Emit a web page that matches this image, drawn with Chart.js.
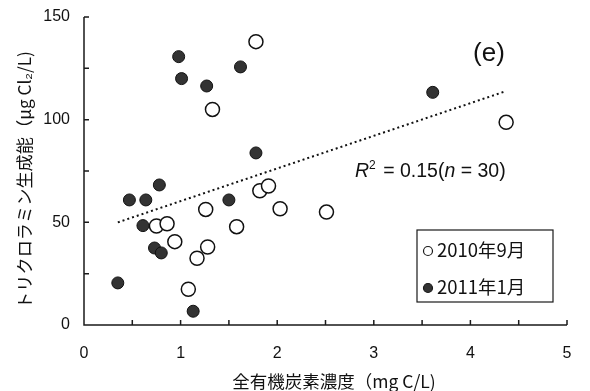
<!DOCTYPE html>
<html>
<head>
<meta charset="utf-8">
<script src="https://cdn.jsdelivr.net/npm/chart.js@4"></script>
<style>
  body { margin: 0; background: #fff; }
  #wrap { width: 590px; height: 391px; }
</style>
</head>
<body>
<div id="wrap"><canvas id="chartContainer" width="590" height="391"></canvas></div>
<script>
// Sep 2010 samples (open circles)
const sep2010X = [1.78, 1.33, 1.82, 1.91, 1.26, 2.03, 2.51, 0.75, 0.86, 1.58, 0.94, 1.28, 1.17, 1.08, 4.37];
const sep2010Y = [138, 105, 65.4, 67.7, 56.3, 56.6, 55, 48.2, 49.3, 47.9, 40.6, 38, 32.5, 17.4, 98.7];
// Jan 2011 samples (filled circles)
const jan2011X = [0.98, 1.01, 1.27, 1.62, 1.78, 0.78, 0.47, 0.64, 1.50, 0.61, 0.73, 0.80, 0.35, 1.13, 3.61];
const jan2011Y = [130.7, 120, 116.4, 125.7, 83.8, 68.2, 60.9, 60.9, 60.9, 48.4, 37.5, 35.1, 20.5, 6.7, 113.3];
// regression line end points
const trendX = [0.35, 4.35];
const trendY = [50, 113.6];

const xTicks = [0, 0.5, 1, 1.5, 2, 2.5, 3, 3.5, 4, 4.5, 5];
const yTicks = [0, 25, 50, 75, 100, 125, 150];

const legendLabels = ['2010年9月', '2011年1月'];
const xTitle = '全有機炭素濃度（mg C/L)';
const yTitle = 'トリクロラミン生成能（μg Cl₂/L)';

const NUM_FONT = '"Liberation Sans", Arial, sans-serif';
const JP_FONT = '"Noto Sans CJK JP", "Liberation Sans", sans-serif';

const toPoints = (xs, ys) => xs.map((x, i) => ({ x: x, y: ys[i] }));

// axis lines, inward ticks, titles, legend and notes
const decorPlugin = {
    id: 'decor',
    afterDraw(chart) {
        const ctx = chart.ctx;
        const a = chart.chartArea;
        const xs = chart.scales.x;
        const ys = chart.scales.y;
        ctx.save();
        ctx.strokeStyle = '#1a1a1a';
        ctx.lineWidth = 1.5;
        ctx.beginPath();
        ctx.moveTo(a.left, a.top);
        ctx.lineTo(a.left, a.bottom);
        ctx.lineTo(a.right, a.bottom);
        yTicks.forEach(v => {
            const py = ys.getPixelForValue(v);
            ctx.moveTo(a.left, py);
            ctx.lineTo(a.left + 5, py);
        });
        xTicks.forEach(v => {
            const px = xs.getPixelForValue(v);
            ctx.moveTo(px, a.bottom);
            ctx.lineTo(px, a.bottom - 5);
        });
        ctx.stroke();

        ctx.fillStyle = '#111';
        // x title
        ctx.font = '17.5px ' + JP_FONT;
        ctx.textAlign = 'center';
        ctx.textBaseline = 'middle';
        ctx.fillText(xTitle, 334, 381);
        // y title
        ctx.font = '17.2px ' + JP_FONT;
        ctx.save();
        ctx.translate(24, 180);
        ctx.rotate(-Math.PI / 2);
        ctx.fillText(yTitle, 0, 0);
        ctx.restore();

        // panel tag
        ctx.font = '26px ' + NUM_FONT;
        ctx.fillText('(e)', 489, 54);

        // R2 note
        ctx.textAlign = 'left';
        let x0 = 355;
        const yb = 177;
        ctx.textBaseline = 'alphabetic';
        const parts = [
            ['italic 19.5px ' + NUM_FONT, 'R', 0],
            ['12px ' + NUM_FONT, '2', -8],
            ['19.5px ' + NUM_FONT, ' = 0.15(', 0],
            ['italic 19.5px ' + NUM_FONT, 'n', 0],
            ['19.5px ' + NUM_FONT, ' = 30)', 0]
        ];
        parts.forEach(p => {
            ctx.font = p[0];
            ctx.fillText(p[1], x0, yb + p[2]);
            x0 += ctx.measureText(p[1]).width + (p[1] === '2' ? 2 : 0);
        });

        // legend box
        ctx.lineWidth = 1.2;
        ctx.strokeRect(417, 230, 136, 72);
        ctx.font = '18.5px ' + JP_FONT;
        ctx.textBaseline = 'middle';
        ctx.fillText(legendLabels[0], 437, 250);
        ctx.fillText(legendLabels[1], 437, 287);
        ctx.beginPath();
        ctx.lineWidth = 1.2;
        ctx.fillStyle = '#fff';
        ctx.arc(428, 251, 4.5, 0, Math.PI * 2);
        ctx.fill();
        ctx.stroke();
        ctx.beginPath();
        ctx.fillStyle = '#333';
        ctx.arc(428, 288, 4.5, 0, Math.PI * 2);
        ctx.fill();
        ctx.stroke();
        ctx.restore();
    }
};

const ctx = document.getElementById('chartContainer').getContext('2d');
const scatterChart = new Chart(ctx, {
    type: 'scatter',
    data: {
        datasets: [{
            label: 'trend',
            type: 'line',
            data: toPoints(trendX, trendY),
            borderColor: '#111',
            borderWidth: 2,
            borderDash: [2, 3],
            pointRadius: 0,
            fill: false
        }, {
            label: legendLabels[0],
            data: toPoints(sep2010X, sep2010Y),
            pointRadius: 7,
            pointBackgroundColor: '#fff',
            pointBorderColor: '#111',
            pointBorderWidth: 1.5
        }, {
            label: legendLabels[1],
            data: toPoints(jan2011X, jan2011Y),
            pointRadius: 6,
            pointBackgroundColor: '#333',
            pointBorderColor: '#111',
            pointBorderWidth: 1
        }]
    },
    options: {
        responsive: false,
        animation: false,
        layout: { padding: { top: 17, right: 23, left: 0, bottom: 0 } },
        plugins: {
            legend: { display: false },
            tooltip: { enabled: false }
        },
        scales: {
            x: {
                type: 'linear',
                min: 0,
                max: 5,
                afterFit: (scale) => {
                    scale.height = 66;
                    scale.paddingLeft = 0;
                    scale.paddingRight = 0;
                },
                grid: { display: false, drawTicks: false },
                border: { display: false },
                ticks: {
                    stepSize: 0.5,
                    padding: 19,
                    color: '#111',
                    font: { size: 16, family: NUM_FONT },
                    callback: (v) => Number.isInteger(v) ? v : ''
                }
            },
            y: {
                min: 0,
                max: 150,
                afterFit: (scale) => {
                    scale.width = 84;
                    scale.paddingTop = 0;
                    scale.paddingBottom = 0;
                },
                grid: { display: false, drawTicks: false },
                border: { display: false },
                ticks: {
                    stepSize: 25,
                    padding: 14,
                    color: '#111',
                    font: { size: 16, family: NUM_FONT },
                    callback: (v) => v % 50 === 0 ? v : ''
                }
            }
        }
    },
    plugins: [decorPlugin]
});
</script>
</body>
</html>
